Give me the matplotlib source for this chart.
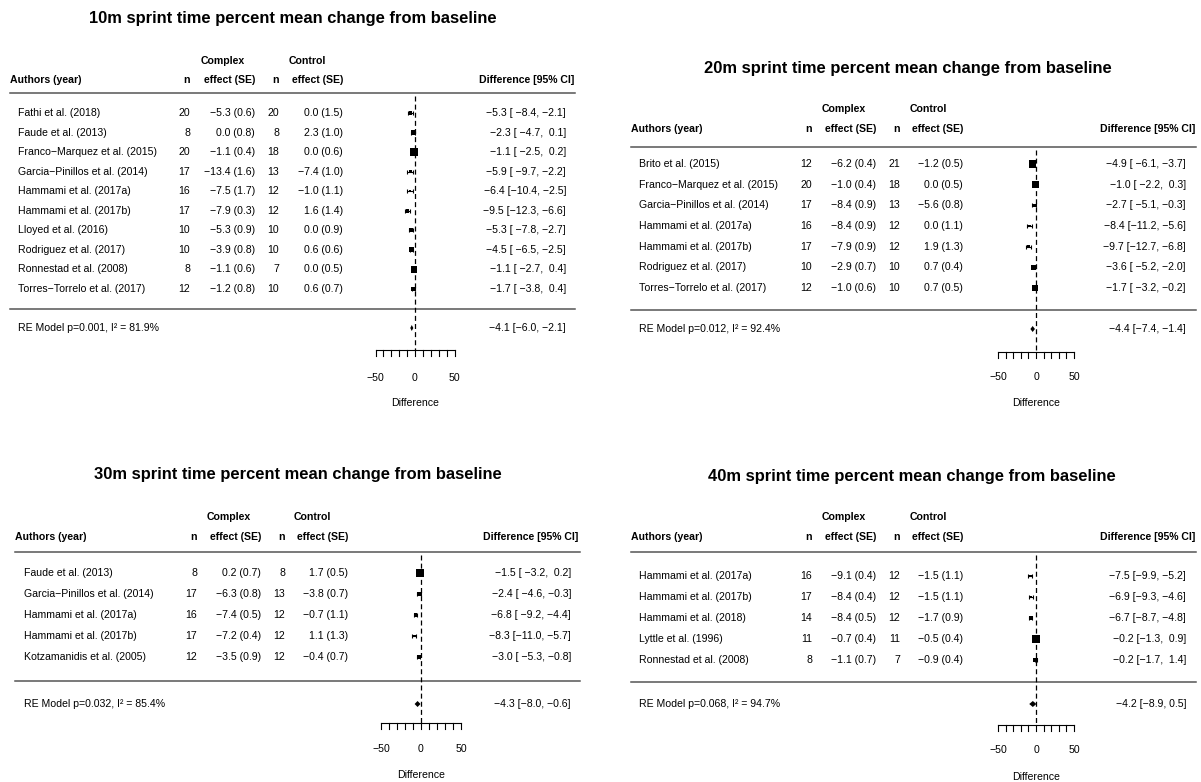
import numpy as np
import matplotlib
matplotlib.use("Agg")
import matplotlib.pyplot as plt

plt.rcParams['font.family'] = ['Liberation Sans', 'DejaVu Sans']

# ---- 10m sprint ----
s10_authors = ["Fathi et al. (2018)", "Faude et al. (2013)", "Franco\u2212Marquez et al. (2015)",
               "Garcia\u2212Pinillos et al. (2014)", "Hammami et al. (2017a)", "Hammami et al. (2017b)",
               "Lloyed et al. (2016)", "Rodriguez et al. (2017)", "Ronnestad et al. (2008)",
               "Torres\u2212Torrelo et al. (2017)"]
s10_n_complex = [20, 8, 20, 17, 16, 17, 10, 10, 8, 12]
s10_eff_complex = [-5.3, 0.0, -1.1, -13.4, -7.5, -7.9, -5.3, -3.9, -1.1, -1.2]
s10_se_complex = [0.6, 0.8, 0.4, 1.6, 1.7, 0.3, 0.9, 0.8, 0.6, 0.8]
s10_n_control = [20, 8, 18, 13, 12, 12, 10, 10, 7, 10]
s10_eff_control = [0.0, 2.3, 0.0, -7.4, -1.0, 1.6, 0.0, 0.6, 0.0, 0.6]
s10_se_control = [1.5, 1.0, 0.6, 1.0, 1.1, 1.4, 0.9, 0.6, 0.5, 0.7]
s10_diff = [-5.3, -2.3, -1.1, -5.9, -6.4, -9.5, -5.3, -4.5, -1.1, -1.7]
s10_lower = [-8.4, -4.7, -2.5, -9.7, -10.4, -12.3, -7.8, -6.5, -2.7, -3.8]
s10_upper = [-2.1, 0.1, 0.2, -2.2, -2.5, -6.6, -2.7, -2.5, 0.4, 0.4]
s10_re = [-4.1, -6.0, -2.1]
s10_p, s10_i2 = "0.001", "81.9"

# ---- 20m sprint ----
s20_authors = ["Brito et al. (2015)", "Franco\u2212Marquez et al. (2015)", "Garcia\u2212Pinillos et al. (2014)",
               "Hammami et al. (2017a)", "Hammami et al. (2017b)", "Rodriguez et al. (2017)",
               "Torres\u2212Torrelo et al. (2017)"]
s20_n_complex = [12, 20, 17, 16, 17, 10, 12]
s20_eff_complex = [-6.2, -1.0, -8.4, -8.4, -7.9, -2.9, -1.0]
s20_se_complex = [0.4, 0.4, 0.9, 0.9, 0.9, 0.7, 0.6]
s20_n_control = [21, 18, 13, 12, 12, 10, 10]
s20_eff_control = [-1.2, 0.0, -5.6, 0.0, 1.9, 0.7, 0.7]
s20_se_control = [0.5, 0.5, 0.8, 1.1, 1.3, 0.4, 0.5]
s20_diff = [-4.9, -1.0, -2.7, -8.4, -9.7, -3.6, -1.7]
s20_lower = [-6.1, -2.2, -5.1, -11.2, -12.7, -5.2, -3.2]
s20_upper = [-3.7, 0.3, -0.3, -5.6, -6.8, -2.0, -0.2]
s20_re = [-4.4, -7.4, -1.4]
s20_p, s20_i2 = "0.012", "92.4"

# ---- 30m sprint ----
s30_authors = ["Faude et al. (2013)", "Garcia\u2212Pinillos et al. (2014)", "Hammami et al. (2017a)",
               "Hammami et al. (2017b)", "Kotzamanidis et al. (2005)"]
s30_n_complex = [8, 17, 16, 17, 12]
s30_eff_complex = [0.2, -6.3, -7.4, -7.2, -3.5]
s30_se_complex = [0.7, 0.8, 0.5, 0.4, 0.9]
s30_n_control = [8, 13, 12, 12, 12]
s30_eff_control = [1.7, -3.8, -0.7, 1.1, -0.4]
s30_se_control = [0.5, 0.7, 1.1, 1.3, 0.7]
s30_diff = [-1.5, -2.4, -6.8, -8.3, -3.0]
s30_lower = [-3.2, -4.6, -9.2, -11.0, -5.3]
s30_upper = [0.2, -0.3, -4.4, -5.7, -0.8]
s30_re = [-4.3, -8.0, -0.6]
s30_p, s30_i2 = "0.032", "85.4"

# ---- 40m sprint ----
s40_authors = ["Hammami et al. (2017a)", "Hammami et al. (2017b)", "Hammami et al. (2018)",
               "Lyttle et al. (1996)", "Ronnestad et al. (2008)"]
s40_n_complex = [16, 17, 14, 11, 8]
s40_eff_complex = [-9.1, -8.4, -8.4, -0.7, -1.1]
s40_se_complex = [0.4, 0.4, 0.5, 0.4, 0.7]
s40_n_control = [12, 12, 12, 11, 7]
s40_eff_control = [-1.5, -1.5, -1.7, -0.5, -0.9]
s40_se_control = [1.1, 1.1, 0.9, 0.4, 0.4]
s40_diff = [-7.5, -6.9, -6.7, -0.2, -0.2]
s40_lower = [-9.9, -9.3, -8.7, -1.3, -1.7]
s40_upper = [-5.2, -4.6, -4.8, 0.9, 1.4]
s40_re = [-4.2, -8.9, 0.5]
s40_p, s40_i2 = "0.068", "94.7"

W, H = 1201, 782
FS = 7.6
MINUS = "\u2212"


def num(v, width=0):
    return f"{v:.1f}".rjust(width).replace("-", MINUS)


def square_sizes(lb, ub):
    # like metafor: 1/SE rescaled to 0.5 .. 1.5
    lb, ub = np.asarray(lb), np.asarray(ub)
    wi = 1 / ((ub - lb) / (2 * 1.96))
    p = (wi - wi.min()) / (wi.max() - wi.min())
    return p + 0.5


def draw_panel(fig, title, authors, n1, e1, se1, n2, e2, se2, est, lb, ub, re, pval, i2, lay):
    L, T, R, B = lay["box"]
    x0, ppu, y0, dy = lay["x0"], lay["ppu"], lay["y0"], lay["dy"]
    ax = fig.add_axes([L / W, 1 - B / H, (R - L) / W, (B - T) / H])
    ax.set_xlim((L - x0) / ppu, (R - x0) / ppu)
    ax.set_ylim((B - y0) / dy, (T - y0) / dy)
    ax.axis("off")

    def X(px):
        return (px - x0) / ppu

    def Y(py):
        return (py - y0) / dy

    k = len(authors)
    rows = np.arange(k)

    # title and headers
    ax.text(X(lay["title_x"]), Y(lay["title_y"]), title, ha="center", va="center",
            fontsize=11.9, fontweight="bold")
    hb = dict(fontsize=FS, fontweight="bold", va="center")
    ax.text(X(lay["cx_ctr"]), Y(lay["hdr1_y"]), "Complex", ha="center", **hb)
    ax.text(X(lay["ct_ctr"]), Y(lay["hdr1_y"]), "Control", ha="center", **hb)
    ax.text(X(lay["auth_x"]), Y(lay["hdr2_y"]), "Authors (year)", ha="left", **hb)
    ax.text(X(lay["n1_x"]), Y(lay["hdr2_y"]), "n", ha="right", **hb)
    ax.text(X(lay["e1_x"]), Y(lay["hdr2_y"]), "effect (SE)", ha="right", **hb)
    ax.text(X(lay["n2_x"]), Y(lay["hdr2_y"]), "n", ha="right", **hb)
    ax.text(X(lay["e2_x"]), Y(lay["hdr2_y"]), "effect (SE)", ha="right", **hb)
    ax.text(X(lay["diff_x"]), Y(lay["hdr2_y"]), "Difference [95% CI]", ha="right", **hb)

    # separator lines
    for yy in (lay["top_y"], lay["bot_y"]):
        ax.plot([X(lay["line_l"]), X(lay["line_r"])], [Y(yy), Y(yy)], color="#555555", lw=1.1)

    # reference line
    ax.plot([0, 0], [Y(lay["top_y"] + 3), Y(lay["axis_y"])], color="black", lw=0.9,
            dashes=(4, 2.5))

    # study rows
    wl = max(len(f"{v:.1f}") for v in lb)
    wu = max(len(f"{v:.1f}") for v in ub)
    we = max(len(f"{v:.1f}") for v in est)
    tb = dict(fontsize=FS, va="center")
    for i in range(k):
        ax.text(X(lay["name_x"]), rows[i], authors[i], ha="left", **tb)
        ax.text(X(lay["n1_x"]), rows[i], str(n1[i]), ha="right", **tb)
        ax.text(X(lay["e1_x"]), rows[i], f"{num(e1[i])} ({se1[i]:.1f})", ha="right", **tb)
        ax.text(X(lay["n2_x"]), rows[i], str(n2[i]), ha="right", **tb)
        ax.text(X(lay["e2_x"]), rows[i], f"{num(e2[i])} ({se2[i]:.1f})", ha="right", **tb)
        ax.text(X(lay["ci_x"]), rows[i],
                f"{num(est[i], we)} [{num(lb[i], wl)}, {num(ub[i], wu)}]", ha="right", **tb)

    est_a, lb_a, ub_a = np.asarray(est), np.asarray(lb), np.asarray(ub)
    ax.errorbar(est_a, rows, xerr=[est_a - lb_a, ub_a - est_a], fmt="none", ecolor="black",
                elinewidth=0.8, capsize=1.2, capthick=0.8)
    ps = square_sizes(lb, ub)
    ax.scatter(est_a, rows, s=(ps * 3.6) ** 2, marker="s", color="black", linewidths=0, zorder=3)

    # summary
    ry = Y(lay["re_y"])
    h = 3.0 / dy
    ax.fill([re[1], re[0], re[2], re[0]], [ry, ry - h, ry, ry + h], color="black", lw=0)
    ax.text(X(lay["name_x"]), ry, f"RE Model p={pval}, I\u00b2 = {i2}%", ha="left", **tb)
    ax.text(X(lay["ci_x"]), ry, f"{num(re[0])} [{num(re[1])}, {num(re[2])}]", ha="right", **tb)

    # x axis
    ay = Y(lay["axis_y"])
    ticks = np.arange(-50, 51, 10)
    ax.plot([ticks[0], ticks[-1]], [ay, ay], color="black", lw=0.8)
    for t in ticks:
        ax.plot([t, t], [ay, Y(lay["axis_y"] + 6)], color="black", lw=0.8)
    for t in (-50, 0, 50):
        ax.text(t, Y(lay["tick_y"]), str(t).replace("-", MINUS), ha="center", va="center",
                fontsize=FS)
    ax.text(0, Y(lay["xlab_y"]), "Difference", ha="center", va="center", fontsize=FS)
    return ax


left_cols = dict(cx_ctr=223, ct_ctr=307, auth_x=9.6, name_x=18.4, n1_x=190, e1_x=255,
                 n2_x=279, e2_x=343, diff_x=574, ci_x=566, line_l=9.6, line_r=575)
right_cols = dict(cx_ctr=844, ct_ctr=928, auth_x=631, name_x=639, n1_x=812, e1_x=876,
                  n2_x=900, e2_x=963, diff_x=1195, ci_x=1186, line_l=631, line_r=1196)

lay10 = dict(left_cols, box=(0, 0, 600, 420), x0=415, ppu=0.79, y0=113, dy=19.56,
             title_x=293, title_y=18, hdr1_y=61, hdr2_y=80, top_y=93, bot_y=309, re_y=328,
             axis_y=350, tick_y=378, xlab_y=403)
lay20 = dict(right_cols, box=(600, 0, 1201, 420), x0=1036, ppu=0.76, y0=164, dy=20.67,
             title_x=908, title_y=68, hdr1_y=109, hdr2_y=129, top_y=147, bot_y=310, re_y=329,
             axis_y=352, tick_y=377, xlab_y=403)
lay30 = dict(left_cols, box=(0, 420, 600, 782), x0=421, ppu=0.80, y0=573, dy=21.0,
             title_x=298, title_y=475, hdr1_y=517, hdr2_y=537, top_y=552, bot_y=681, re_y=704,
             axis_y=723, tick_y=749, xlab_y=775)
lay30.update(cx_ctr=229, ct_ctr=312, auth_x=15, name_x=24, n1_x=197, e1_x=261, n2_x=285,
             e2_x=348, diff_x=578, ci_x=571, line_l=15, line_r=580)
lay40 = dict(right_cols, box=(600, 420, 1201, 782), x0=1036, ppu=0.76, y0=576, dy=21.0,
             title_x=912, title_y=477, hdr1_y=517, hdr2_y=537, top_y=552, bot_y=682, re_y=704,
             axis_y=725, tick_y=750, xlab_y=777)

fig = plt.figure(figsize=(W / 100, H / 100), dpi=100)
fig.patch.set_facecolor("white")

draw_panel(fig, "10m sprint time percent mean change from baseline", s10_authors,
           s10_n_complex, s10_eff_complex, s10_se_complex, s10_n_control, s10_eff_control,
           s10_se_control, s10_diff, s10_lower, s10_upper, s10_re, s10_p, s10_i2, lay10)
draw_panel(fig, "20m sprint time percent mean change from baseline", s20_authors,
           s20_n_complex, s20_eff_complex, s20_se_complex, s20_n_control, s20_eff_control,
           s20_se_control, s20_diff, s20_lower, s20_upper, s20_re, s20_p, s20_i2, lay20)
draw_panel(fig, "30m sprint time percent mean change from baseline", s30_authors,
           s30_n_complex, s30_eff_complex, s30_se_complex, s30_n_control, s30_eff_control,
           s30_se_control, s30_diff, s30_lower, s30_upper, s30_re, s30_p, s30_i2, lay30)
draw_panel(fig, "40m sprint time percent mean change from baseline", s40_authors,
           s40_n_complex, s40_eff_complex, s40_se_complex, s40_n_control, s40_eff_control,
           s40_se_control, s40_diff, s40_lower, s40_upper, s40_re, s40_p, s40_i2, lay40)

fig.savefig("out.png", dpi=100)
